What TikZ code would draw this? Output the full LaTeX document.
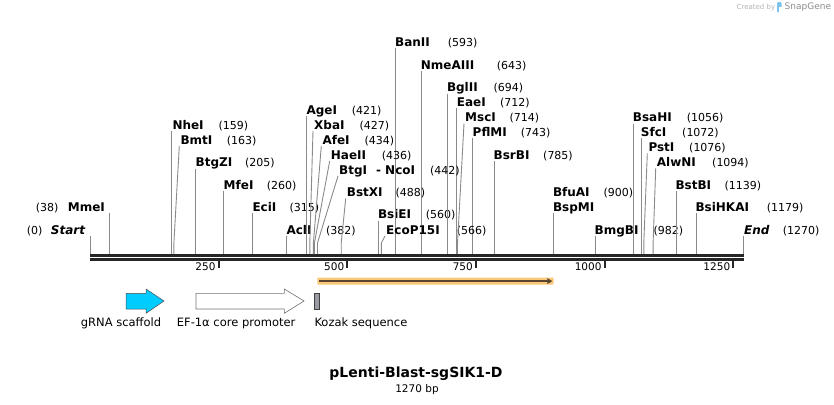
\documentclass[tikz,border=0pt]{standalone}
\usepackage{fontspec}
\setmainfont{DejaVu Sans}
\usetikzlibrary{calc,arrows.meta}
\definecolor{cutgray}{HTML}{8A8A8A}
\definecolor{rulerc}{HTML}{262626}
\definecolor{scaff}{HTML}{00CCFF}
\definecolor{orfill}{HTML}{FAC878}
\definecolor{orline}{HTML}{5A4630}
\definecolor{kozakc}{HTML}{9A9CA3}
\definecolor{wmgray}{HTML}{B4B4B4}
\definecolor{wmblue}{HTML}{7CC4EC}
\newcommand{\enzv}[7]{%
  \node[enzname] (n#1) at (#3,{#4+4}) {#5};
  \node[enznum] (m#1) at (#6,{#4+4}) {#7};
  \coordinate (t#1) at (#2,{#4+6});
  \coordinate (c#1) at (#2,254);
  \draw[cut] (t#1) -- (c#1);}
\newcommand{\enzs}[7]{%
  \node[enzname] (n#1) at (#3,{#4+4}) {#5};
  \node[enznum] (m#1) at (#6,{#4+4}) {#7};
  \coordinate (t#1) at ({#3-1},{#4+6});
  \coordinate (b#1) at (#2,243);
  \coordinate (c#1) at (#2,254);
  \draw[cut] (t#1) -- (b#1) -- (c#1);}
\begin{document}
\begin{tikzpicture}[x=1pt,y=-1pt,
  enzname/.style={inner sep=0pt,anchor=base west,font=\fontsize{12}{14}\selectfont\bfseries},
  enznum/.style={inner sep=0pt,anchor=base west,font=\fontsize{11}{13}\selectfont},
  endname/.style={inner sep=0pt,anchor=base west,font=\fontsize{12}{14}\selectfont\bfseries\itshape},
  cut/.style={draw=cutgray,line width=0.9pt},
  rulerline/.style={draw=rulerc,line width=2.6pt},
  tickmark/.style={draw=rulerc,line width=2pt},
  ticklab/.style={inner sep=0pt,anchor=base east,font=\fontsize{10.5}{12}\selectfont},
  featlab/.style={inner sep=0pt,anchor=base west,font=\fontsize{11.5}{13}\selectfont},
]
\useasboundingbox (0,0) rectangle (834,404);

% ruler
\coordinate (rulerL) at (90,255.7);
\coordinate (rulerR) at (743.7,255.7);
\coordinate (rulerL2) at (90,259.6);
\coordinate (rulerR2) at (743.7,259.6);
\draw[rulerline] (rulerL) -- (rulerR);
\draw[rulerline] (rulerL2) -- (rulerR2);
\foreach \p/\xx in {250/218.7,500/347.4,750/476.0,1000/604.7,1250/733.4}{
  \coordinate (tk\p a) at (\xx,260.5);
  \coordinate (tk\p b) at (\xx,267.5);
  \draw[tickmark] (tk\p a) -- (tk\p b);
  \node[ticklab] (tl\p) at ({\xx-3},270.5) {\p};
}

% Start / End / MmeI
\node[enznum] (mstart) at (26.7,234) {(0)};
\node[endname] (nstart) at (50.7,234) {Start};
\coordinate (tstart) at (90,236);
\coordinate (cstart) at (90,254);
\draw[cut] (tstart) -- (cstart);
\node[endname] (nend) at (744,234) {End};
\node[enznum] (mend) at (782.7,234) {(1270)};
\coordinate (tend) at (743.7,236);
\coordinate (cend) at (743.7,254);
\draw[cut] (tend) -- (cend);
\node[enznum] (mmme) at (35.7,211) {(38)};
\node[enzname] (nmme) at (67.7,211) {MmeI};
\coordinate (tmme) at (109.6,213);
\coordinate (cmme) at (109.6,254);
\draw[cut] (tmme) -- (cmme);

% vertical cut-site lines
\enzv{nhe}{171.8}{172.3}{125}{NheI}{218.3}{(159)}
\enzv{btgz}{195.5}{195.5}{162.5}{BtgZI}{245}{(205)}
\enzv{mfe}{223.8}{223.5}{185}{MfeI}{266.7}{(260)}
\enzv{eci}{252.1}{252.3}{207}{EciI}{289.3}{(315)}
\enzv{acl}{286.6}{286.3}{230}{AclI}{326}{(382)}
\enzv{age}{306.7}{306.3}{110}{AgeI}{351.7}{(421)}
\enzv{bsie}{378.2}{377.8}{214.5}{BsiEI}{425.7}{(560)}
\enzv{ban}{395.2}{395}{42}{BanII}{447.7}{(593)}
\enzv{nme}{421.0}{420.7}{65}{NmeAIII}{496.7}{(643)}
\enzv{bgl}{447.2}{446.8}{87.5}{BglII}{493.3}{(694)}
\enzv{eae}{456.5}{456.7}{102}{EaeI}{500}{(712)}
\enzv{pfl}{472.4}{472.5}{132}{PflMI}{520.7}{(743)}
\enzv{bsrb}{494.0}{493.5}{155}{BsrBI}{543}{(785)}
\node[enzname] (nbfu) at (552.8,196) {BfuAI};
\node[enznum] (mbfu) at (603.3,196) {(900)};
\node[enzname] (nbsp) at (552.8,211.3) {BspMI};
\coordinate (tbfu) at (553.2,213.3);
\coordinate (cbfu) at (553.2,254);
\draw[cut] (tbfu) -- (cbfu);
\enzv{bmgb}{595.4}{594.5}{230}{BmgBI}{653.3}{(982)}
\enzv{bsah}{633.5}{632.7}{117.5}{BsaHI}{686.7}{(1056)}
\enzv{sfc}{641.8}{640.7}{132.3}{SfcI}{682}{(1072)}
\enzv{bstb}{676.3}{675.3}{185}{BstBI}{724.3}{(1139)}
\enzv{bsihk}{696.8}{695.3}{207.3}{BsiHKAI}{766.7}{(1179)}

% slanted cut-site lines
\enzs{bmt}{173.9}{180.3}{140}{BmtI}{226.7}{(163)}
\enzs{xba}{309.8}{314}{125}{XbaI}{359.3}{(427)}
\enzs{afe}{313.4}{322.3}{140}{AfeI}{364.3}{(434)}
\enzs{hae}{314.4}{330.7}{155}{HaeII}{381.7}{(436)}
\enzs{btgi}{317.5}{339}{170}{BtgI}{430}{(442)}
\node[enzname] (ndash) at (376,174) {-};
\node[enzname] (nnco) at (385,174) {NcoI};
\enzs{bstx}{341.2}{346.7}{192.5}{BstXI}{395.3}{(488)}
\enzs{ecop}{381.3}{386}{230}{EcoP15I}{456.7}{(566)}
\enzs{msc}{457.5}{465}{117.5}{MscI}{509.3}{(714)}
\enzs{pst}{643.8}{648.3}{147.3}{PstI}{689}{(1076)}
\enzs{alwn}{653.1}{656.7}{162.3}{AlwNI}{712}{(1094)}

% ORF feature
\fill[orfill,rounded corners=1pt] (317.3,277.6) rectangle (553.6,284.6);
\coordinate (orfA) at (318.6,281.1);
\coordinate (orfB) at (552.4,281.1);
\draw[orline,line width=1.8pt,-{Triangle[length=5pt,width=5.5pt]}] (orfA) -- (orfB);

% gRNA scaffold
\filldraw[fill=scaff,draw=black!70,line width=0.5pt]
  (126,293.3) -- (146,293.3) -- (146,289) -- (164,301) -- (146,313.3) -- (146,309) -- (126,309) -- cycle;
\node[featlab] (lscaff) at (80.7,326.7) {gRNA scaffold};
% EF-1a core promoter
\filldraw[fill=white,draw=black!55,line width=0.6pt]
  (196,293.3) -- (284.3,293.3) -- (284.3,289) -- (304,301) -- (284.3,313.3) -- (284.3,309) -- (196,309) -- cycle;
\node[featlab] (lef) at (176.7,326.7) {EF-1α core promoter};
% Kozak
\filldraw[fill=kozakc,draw=black!75,line width=0.5pt] (314.3,293.3) rectangle (319.7,309);
\node[featlab] (lkoz) at (314.3,326.7) {Kozak sequence};

% title
\node[inner sep=0pt,anchor=base,font=\fontsize{14}{16}\selectfont\bfseries] (title) at (416,377.4) {pLenti-Blast-sgSIK1-D};
\node[inner sep=0pt,anchor=base,font=\fontsize{10.5}{12}\selectfont] (size) at (417,392) {1270 bp};

% watermark
\node[inner sep=0pt,anchor=west,text=wmgray,font=\fontsize{7}{8}\selectfont] (wm1) at (736.5,7.3) {Created by};
\fill[wmblue,rounded corners=1pt] (777,2.2) rectangle (781.6,12.5);
\fill[white] (779.2,7.5) rectangle (781.8,12.8);
\node[inner sep=0pt,anchor=west,text=black!45,font=\fontsize{9}{10}\selectfont] (wm2) at (784.5,7.3) {SnapGene};
\end{tikzpicture}
\end{document}
